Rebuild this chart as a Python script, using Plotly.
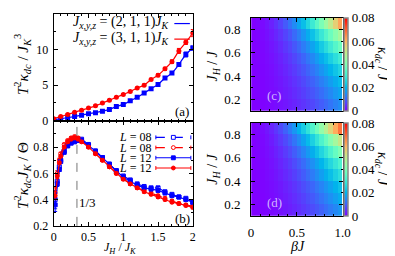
import numpy as np
import plotly.graph_objects as go

W, H = 395, 256
FONT = "Liberation Serif, DejaVu Serif, serif"

# ---------------- data ----------------
# panel (a)
XA = [0.0, 0.1, 0.2, 0.3, 0.4, 0.5, 0.6, 0.7, 0.8, 0.9, 1.0, 1.1, 1.2, 1.3, 1.4, 1.5, 1.6, 1.7, 1.8, 1.9, 2.0]
RED_A = [0.3, 0.6, 0.9, 1.2, 1.5, 1.8, 2.1, 2.5, 2.9, 3.3, 3.7, 4.1, 4.6, 5.0, 5.8, 6.4, 7.3, 8.3, 9.8, 11.0, 12.3]
RED_A_ERR = [0.1, 0.1, 0.1, 0.1, 0.1, 0.1, 0.1, 0.1, 0.1, 0.1, 0.1, 0.1, 0.1, 0.15, 0.15, 0.2, 0.2, 0.25, 0.35, 0.3, 0.5]
BLUE_A = [0.1, 0.3, 0.45, 0.6, 0.8, 1.0, 1.15, 1.35, 1.6, 2.0, 2.3, 2.8, 3.3, 3.9, 4.5, 5.1, 6.0, 6.7, 7.9, 9.3, 10.2]
BLUE_A_ERR = [0.1, 0.1, 0.1, 0.1, 0.1, 0.1, 0.1, 0.1, 0.1, 0.1, 0.1, 0.1, 0.1, 0.1, 0.15, 0.15, 0.2, 0.2, 0.25, 0.35, 0.3]

# panel (b)
XB = [0.02, 0.05, 0.08, 0.1, 0.15, 0.2, 0.25, 0.3, 0.35, 0.4, 0.5, 0.6, 0.7, 0.8, 0.9,
      1.0, 1.1, 1.2, 1.3, 1.4, 1.5, 1.6, 1.7, 1.8, 1.9, 2.0]
B08 = [0.40, 0.54, 0.65, 0.70, 0.77, 0.81, 0.84, 0.85, 0.86, 0.86, 0.82, 0.77, 0.72, 0.67, 0.62,
       0.58, 0.55, 0.52, 0.50, 0.49, 0.49, 0.46, 0.44, 0.42, 0.41, 0.38]
R08 = [0.45, 0.60, 0.70, 0.75, 0.82, 0.85, 0.87, 0.88, 0.87, 0.85, 0.80, 0.75, 0.70, 0.65, 0.60,
       0.56, 0.52, 0.49, 0.47, 0.45, 0.43, 0.41, 0.39, 0.37, 0.36, 0.35]
B12 = [0.36, 0.52, 0.63, 0.69, 0.76, 0.81, 0.83, 0.84, 0.85, 0.85, 0.81, 0.77, 0.72, 0.67, 0.62,
       0.57, 0.54, 0.51, 0.49, 0.48, 0.47, 0.45, 0.43, 0.42, 0.40, 0.38]
R12 = [0.43, 0.58, 0.68, 0.73, 0.80, 0.84, 0.86, 0.87, 0.86, 0.84, 0.80, 0.75, 0.70, 0.65, 0.60,
       0.555, 0.52, 0.49, 0.46, 0.44, 0.42, 0.40, 0.38, 0.37, 0.355, 0.34]
B08_ERR = [0.07, 0.03, 0.02, 0.015, 0.01, 0.01, 0.01, 0.01, 0.01, 0.01, 0.01, 0.01, 0.01, 0.01, 0.01,
           0.01, 0.01, 0.01, 0.01, 0.01, 0.01, 0.01, 0.01, 0.01, 0.01, 0.015]
R08_ERR = [0.04, 0.02, 0.015, 0.01, 0.01, 0.01, 0.01, 0.01, 0.01, 0.01, 0.01, 0.01, 0.01, 0.01, 0.01,
           0.01, 0.01, 0.01, 0.01, 0.01, 0.01, 0.01, 0.01, 0.01, 0.01, 0.01]
B12_ERR = [0.05, 0.02, 0.015, 0.01, 0.01, 0.01, 0.01, 0.01, 0.01, 0.01, 0.01, 0.01, 0.01, 0.01, 0.01,
           0.01, 0.01, 0.01, 0.01, 0.01, 0.01, 0.01, 0.01, 0.01, 0.01, 0.01]
R12_ERR = [0.03, 0.02, 0.01, 0.01, 0.01, 0.01, 0.01, 0.01, 0.01, 0.01, 0.01, 0.01, 0.01, 0.01, 0.01,
           0.01, 0.01, 0.01, 0.01, 0.01, 0.01, 0.01, 0.01, 0.01, 0.01, 0.01]
X_MARK = 1 / 3

# panels (c), (d)
BETA = [0.025, 0.075, 0.125, 0.175, 0.225, 0.275, 0.325, 0.375, 0.425, 0.475,
        0.525, 0.575, 0.625, 0.675, 0.725, 0.775, 0.825, 0.875, 0.925, 0.975]
JH = [0.15, 0.25, 0.35, 0.45, 0.55, 0.65, 0.75, 0.85]
KAPPA_C = [
    [0.0000, 0.0001, 0.0002, 0.0005, 0.0008, 0.0012, 0.0017, 0.0022, 0.0029, 0.0036, 0.0044, 0.0052, 0.0062, 0.0072, 0.0083, 0.0095, 0.0107, 0.0121, 0.0135, 0.0150],
    [0.0000, 0.0001, 0.0003, 0.0006, 0.0010, 0.0014, 0.0020, 0.0027, 0.0034, 0.0043, 0.0052, 0.0063, 0.0074, 0.0086, 0.0100, 0.0114, 0.0129, 0.0145, 0.0162, 0.0180],
    [0.0000, 0.0001, 0.0003, 0.0007, 0.0011, 0.0017, 0.0023, 0.0031, 0.0040, 0.0050, 0.0061, 0.0073, 0.0086, 0.0101, 0.0116, 0.0133, 0.0150, 0.0169, 0.0189, 0.0210],
    [0.0000, 0.0001, 0.0004, 0.0008, 0.0013, 0.0020, 0.0028, 0.0037, 0.0048, 0.0059, 0.0073, 0.0087, 0.0103, 0.0120, 0.0138, 0.0158, 0.0179, 0.0201, 0.0225, 0.0250],
    [0.0000, 0.0002, 0.0005, 0.0010, 0.0016, 0.0024, 0.0033, 0.0044, 0.0057, 0.0071, 0.0087, 0.0104, 0.0123, 0.0144, 0.0166, 0.0190, 0.0215, 0.0242, 0.0270, 0.0300],
    [0.0000, 0.0002, 0.0006, 0.0012, 0.0020, 0.0029, 0.0041, 0.0055, 0.0070, 0.0088, 0.0107, 0.0129, 0.0152, 0.0177, 0.0205, 0.0234, 0.0265, 0.0298, 0.0333, 0.0370],
    [0.0000, 0.0003, 0.0008, 0.0015, 0.0025, 0.0037, 0.0051, 0.0068, 0.0087, 0.0109, 0.0133, 0.0160, 0.0189, 0.0220, 0.0254, 0.0291, 0.0329, 0.0370, 0.0414, 0.0460],
    [0.0000, 0.0004, 0.0010, 0.0020, 0.0033, 0.0049, 0.0069, 0.0092, 0.0118, 0.0147, 0.0180, 0.0216, 0.0255, 0.0297, 0.0343, 0.0392, 0.0444, 0.0499, 0.0558, 0.0620],
]
KAPPA_D = [
    [0.0000, 0.0001, 0.0003, 0.0005, 0.0009, 0.0013, 0.0018, 0.0024, 0.0030, 0.0038, 0.0046, 0.0056, 0.0066, 0.0077, 0.0088, 0.0101, 0.0115, 0.0129, 0.0144, 0.0160],
    [0.0000, 0.0001, 0.0003, 0.0006, 0.0010, 0.0015, 0.0021, 0.0028, 0.0036, 0.0045, 0.0055, 0.0066, 0.0078, 0.0091, 0.0105, 0.0120, 0.0136, 0.0153, 0.0171, 0.0190],
    [0.0000, 0.0001, 0.0004, 0.0007, 0.0012, 0.0017, 0.0024, 0.0033, 0.0042, 0.0052, 0.0064, 0.0077, 0.0090, 0.0105, 0.0122, 0.0139, 0.0158, 0.0177, 0.0198, 0.0220],
    [0.0000, 0.0002, 0.0004, 0.0009, 0.0014, 0.0021, 0.0030, 0.0040, 0.0051, 0.0064, 0.0078, 0.0094, 0.0111, 0.0129, 0.0149, 0.0171, 0.0193, 0.0217, 0.0243, 0.0270],
    [0.0000, 0.0002, 0.0005, 0.0010, 0.0017, 0.0025, 0.0036, 0.0047, 0.0061, 0.0076, 0.0093, 0.0111, 0.0132, 0.0153, 0.0177, 0.0202, 0.0229, 0.0258, 0.0288, 0.0320],
    [0.0000, 0.0002, 0.0007, 0.0013, 0.0021, 0.0032, 0.0044, 0.0059, 0.0076, 0.0095, 0.0116, 0.0139, 0.0164, 0.0192, 0.0221, 0.0253, 0.0286, 0.0322, 0.0360, 0.0400],
    [0.0000, 0.0003, 0.0008, 0.0016, 0.0027, 0.0041, 0.0057, 0.0075, 0.0097, 0.0121, 0.0148, 0.0177, 0.0210, 0.0244, 0.0282, 0.0322, 0.0365, 0.0411, 0.0459, 0.0510],
    [0.0000, 0.0004, 0.0011, 0.0022, 0.0036, 0.0054, 0.0075, 0.0101, 0.0129, 0.0161, 0.0197, 0.0237, 0.0279, 0.0326, 0.0376, 0.0430, 0.0487, 0.0547, 0.0612, 0.0680],
]
CB_TICKS = [0, 0.02, 0.04, 0.06, 0.08]
CB_TEXT = ["0", "0.02", "0.04", "0.06", "0.08"]


# ---------------- helpers ----------------
def PX(x):
    return x / W


def PY(y):
    return 1 - y / H


def rainbow_scale(n=21):
    out = []
    for t in np.linspace(0, 1, n):
        r = min(1.0, abs(2 * t - 0.5))
        g = np.sin(np.pi * t)
        b = np.cos(np.pi * t / 2)
        out.append([float(t), "rgb(%d,%d,%d)" % (round(r * 255), round(g * 255), round(max(b, 0) * 255))])
    return out


RAINBOW = rainbow_scale()
BLUE = "#0000ff"
RED = "#ff0000"
TICKSIZE = 12
HM_TICKSIZE = 13

fig = go.Figure()

# panel (a)
for y, e, c, sym in [(BLUE_A, BLUE_A_ERR, BLUE, "square"), (RED_A, RED_A_ERR, RED, "circle")]:
    fig.add_trace(go.Scatter(
        x=XA, y=y, mode="lines+markers", xaxis="x", yaxis="y",
        line=dict(color=c, width=1.2, shape="spline", smoothing=1.0),
        marker=dict(symbol=sym, size=5, color=c),
        error_y=dict(type="data", array=e, color=c, thickness=1, width=2),
        showlegend=False))

# panel (b)
for y, e, c, sym, dash in [
    (B08, B08_ERR, BLUE, "square-open", "dash"),
    (R08, R08_ERR, RED, "circle-open", "dash"),
    (B12, B12_ERR, BLUE, "square", "solid"),
    (R12, R12_ERR, RED, "circle", "solid"),
]:
    fig.add_trace(go.Scatter(
        x=XB, y=y, mode="lines+markers", xaxis="x2", yaxis="y2",
        line=dict(color=c, width=1.2, dash=dash),
        marker=dict(symbol=sym, size=4, color=c, line=dict(color=c, width=1)),
        error_y=dict(type="data", array=e, color=c, thickness=1, width=2),
        showlegend=False))


def cbar(ycenter, length):
    return dict(x=PX(342.5), xanchor="left", y=PY(ycenter), yanchor="middle", len=length / H,
                thickness=4, outlinecolor="#888888", outlinewidth=1.5, xpad=0, ypad=0,
                tickvals=CB_TICKS, ticktext=CB_TEXT, ticks="",
                tickfont=dict(family=FONT, size=HM_TICKSIZE, color="black"))


fig.add_trace(go.Heatmap(x=BETA, y=JH, z=KAPPA_C, xaxis="x3", yaxis="y3", colorscale=RAINBOW,
                         zmin=0, zmax=0.08, colorbar=cbar(58, 96)))
fig.add_trace(go.Heatmap(x=BETA, y=JH, z=KAPPA_D, xaxis="x4", yaxis="y4", colorscale=RAINBOW,
                         zmin=0, zmax=0.08, colorbar=cbar(166, 96)))


def ax(domain, rng, anchor, tickvals=None, ticktext=None, minor=None, labels=True, standoff=2,
       size=TICKSIZE):
    d = dict(domain=domain, range=rng, anchor=anchor, showline=True, linecolor="black", linewidth=1,
             mirror="allticks", ticks="inside", ticklen=4, tickcolor="black", tickwidth=1,
             showgrid=False, zeroline=False, showticklabels=labels,
             tickfont=dict(family=FONT, size=size, color="black"),
             ticklabelstandoff=standoff)
    if tickvals is not None:
        d["tickmode"] = "array"
        d["tickvals"] = tickvals
        d["ticktext"] = ticktext if ticktext is not None else [str(v) for v in tickvals]
    if minor is not None:
        d["minor"] = dict(dtick=minor, ticks="inside", ticklen=2, tickcolor="black", tickwidth=1)
    return d


xa_dom = [PX(44), PX(187)]
xh_dom = [PX(247), PX(341)]

fig.update_layout(
    width=W, height=H, margin=dict(l=0, r=0, t=0, b=0),
    paper_bgcolor="white", plot_bgcolor="white",
    font=dict(family=FONT, size=TICKSIZE, color="black"),
    xaxis=ax(xa_dom, [0, 2], "y", [0, 0.5, 1, 1.5, 2], minor=0.1, labels=False),
    yaxis=ax([PY(116), PY(6)], [0, 15], "x", [0, 5, 10, 15], minor=2.5),
    xaxis2=ax(xa_dom, [0, 2], "y2", [0, 0.5, 1, 1.5, 2], ["0", "0.5", "1", "1.5", "2"], minor=0.1,
              standoff=0),
    yaxis2=ax([PY(224), PY(116)], [0.2, 1.0], "x2", [0.2, 0.4, 0.6, 0.8], minor=0.1),
    xaxis3=ax(xh_dom, [0, 1], "y3", [0, 0.5, 1], minor=0.1, labels=False),
    yaxis3=ax([PY(106), PY(10)], [0.1, 0.9], "x3", [0.2, 0.4, 0.6, 0.8], minor=0.1, standoff=7,
              size=HM_TICKSIZE),
    xaxis4=ax(xh_dom, [0, 1], "y4", [0, 0.5, 1], ["0", "0.5", "1.0"], minor=0.1, standoff=4,
              size=HM_TICKSIZE),
    yaxis4=ax([PY(214), PY(118)], [0.1, 0.9], "x4", [0.2, 0.4, 0.6, 0.8], minor=0.1, standoff=7,
              size=HM_TICKSIZE),
)

shapes = []
annots = []


def note(x, y, text, size=12, angle=0, xanchor="center", color="black", xref="paper", yref="paper",
         yanchor="middle"):
    annots.append(dict(x=x, y=y, xref=xref, yref=yref, text=text, showarrow=False,
                       textangle=angle, xanchor=xanchor, yanchor=yanchor, borderpad=0,
                       font=dict(family=FONT, size=size, color=color)))


# vertical dashed marker line in (b)
shapes.append(dict(type="line", xref="x2", yref="y2", x0=X_MARK, x1=X_MARK, y0=0.2, y1=1.0,
                   line=dict(color="#777777", width=1, dash="dash")))
note(X_MARK + 0.02, 0.38, "1/3", size=13, xanchor="left", xref="x2", yref="y2")

# axis titles
note(PX(12), PY(58), "<i>T</i><sup>2</sup><i>κ<sub>dc</sub></i> / <i>J</i><sub><i>K</i></sub><sup>3</sup>", size=15, angle=-90)
note(PX(12), PY(172), "<i>T</i><sup>2</sup><i>κ<sub>dc</sub>J<sub>K</sub></i> / Θ", size=15, angle=-90)
note(PX(112), PY(256), "<i>J<sub>H</sub></i> / <i>J<sub>K</sub></i>", size=12, yanchor="bottom")
note(PX(208), PY(60), "<i>J<sub>H</sub></i> / <i>J</i>", size=14, angle=-90)
note(PX(208), PY(166), "<i>J<sub>H</sub></i> / <i>J</i>", size=14, angle=-90)
note(PX(295), PY(245), "<i>βJ</i>", size=14)
note(PX(381), PY(58), "<i>κ<sub>dc</sub></i> / <i>J</i>", size=14, angle=90)
note(PX(381), PY(166), "<i>κ<sub>dc</sub></i> / <i>J</i>", size=14, angle=90)

# panel labels
note(PX(176), PY(106), "(a)", size=13)
note(PX(176), PY(216), "(b)", size=13)
note(PX(271), PY(90), "(c)", size=13, color="rgba(225,215,255,0.85)")
note(PX(271), PY(200), "(d)", size=13, color="rgba(225,215,255,0.85)")

# legend (a)
for yy, txt, c in [(15, "<i>J<sub>x,y,z</sub></i> = (2, 1, 1)<i>J<sub>K</sub></i>", BLUE),
                   (31, "<i>J<sub>x,y,z</sub></i> = (3, 1, 1)<i>J<sub>K</sub></i>", RED)]:
    note(PX(164), PY(yy), txt, size=14, xanchor="right")
    shapes.append(dict(type="line", xref="paper", yref="paper", x0=PX(168), x1=PX(184),
                       y0=PY(yy + 1), y1=PY(yy + 1), line=dict(color=c, width=1.2)))

# legend (b)
for yy, c, dash, filled, sq in [(133, BLUE, "dash", False, True), (143.5, RED, "dash", False, False),
                                (154, BLUE, "solid", True, True), (164.5, RED, "solid", True, False)]:
    lab = "<i>L</i> = 08" if dash == "dash" else "<i>L</i> = 12"
    note(PX(145), PY(yy), lab, size=12, xanchor="right")
    shapes.append(dict(type="line", xref="paper", yref="paper", x0=PX(149), x1=PX(185),
                       y0=PY(yy), y1=PY(yy), line=dict(color=c, width=1.1, dash=dash)))
    for xc in (149, 185):
        shapes.append(dict(type="line", xref="paper", yref="paper", x0=PX(xc), x1=PX(xc),
                           y0=PY(yy - 2), y1=PY(yy + 2), line=dict(color=c, width=1)))
    shapes.append(dict(type="rect" if sq else "circle", xref="paper", yref="paper",
                       x0=PX(165), x1=PX(169), y0=PY(yy + 2), y1=PY(yy - 2),
                       line=dict(color=c, width=1), fillcolor=c if filled else "white"))

fig.update_layout(shapes=shapes, annotations=annots)
fig.write_html("out.html")
